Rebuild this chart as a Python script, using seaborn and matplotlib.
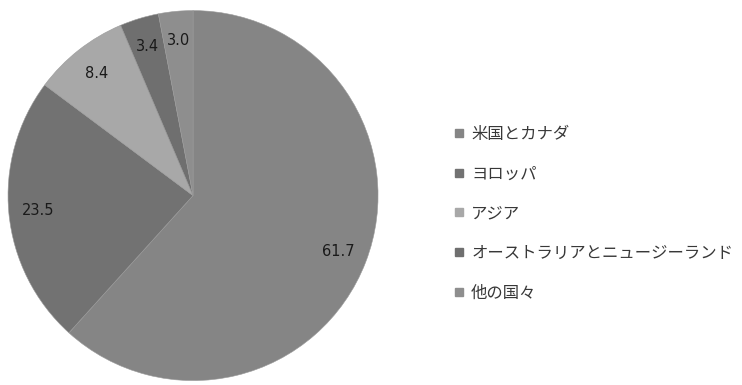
import matplotlib
matplotlib.use("Agg")
import matplotlib.pyplot as plt
from matplotlib.lines import Line2D
import seaborn as sns

categories = ["米国とカナダ", "ヨロッパ", "アジア", "オーストラリアとニュージーランド", "他の国々"]
values = [61.7, 23.5, 8.4, 3.4, 3.0]
colors = ["#858585", "#727272", "#a8a8a8", "#6f6f6f", "#8e8e8e"]

sns.set_theme(style="white")
plt.rcParams['font.family'] = ['Noto Sans CJK JP', 'DejaVu Sans']

fig = plt.figure(figsize=(7.42, 3.85), dpi=100)
ax = fig.add_axes([0.0108, 0.005, 0.4987, 0.974])
wedges, texts, autotexts = ax.pie(
    values, colors=colors, startangle=90, counterclock=False,
    autopct=lambda p: f"{p:.1f}", pctdistance=0.84, radius=1.0,
    wedgeprops=dict(edgecolor="#9a9a9a", linewidth=0.4),
    textprops=dict(fontsize=10.5, color="#1a1a1a", family=['DejaVu Sans']))
ax.set_xlim(-1, 1)
ax.set_ylim(-1, 1)
ax.set_aspect("equal")
ax.axis("off")

handles = [Line2D([], [], marker="s", linestyle="none", markersize=6,
                  markerfacecolor=c, markeredgecolor=c) for c in colors]
fig.legend(handles, categories, loc="upper left", bbox_to_anchor=(0.603, 0.69),
           frameon=False, fontsize=11.8, handlelength=0.6, handletextpad=0.45,
           labelspacing=1.38, labelcolor="#383838", borderaxespad=0)
fig.savefig("out.png", dpi=100, facecolor="white")
